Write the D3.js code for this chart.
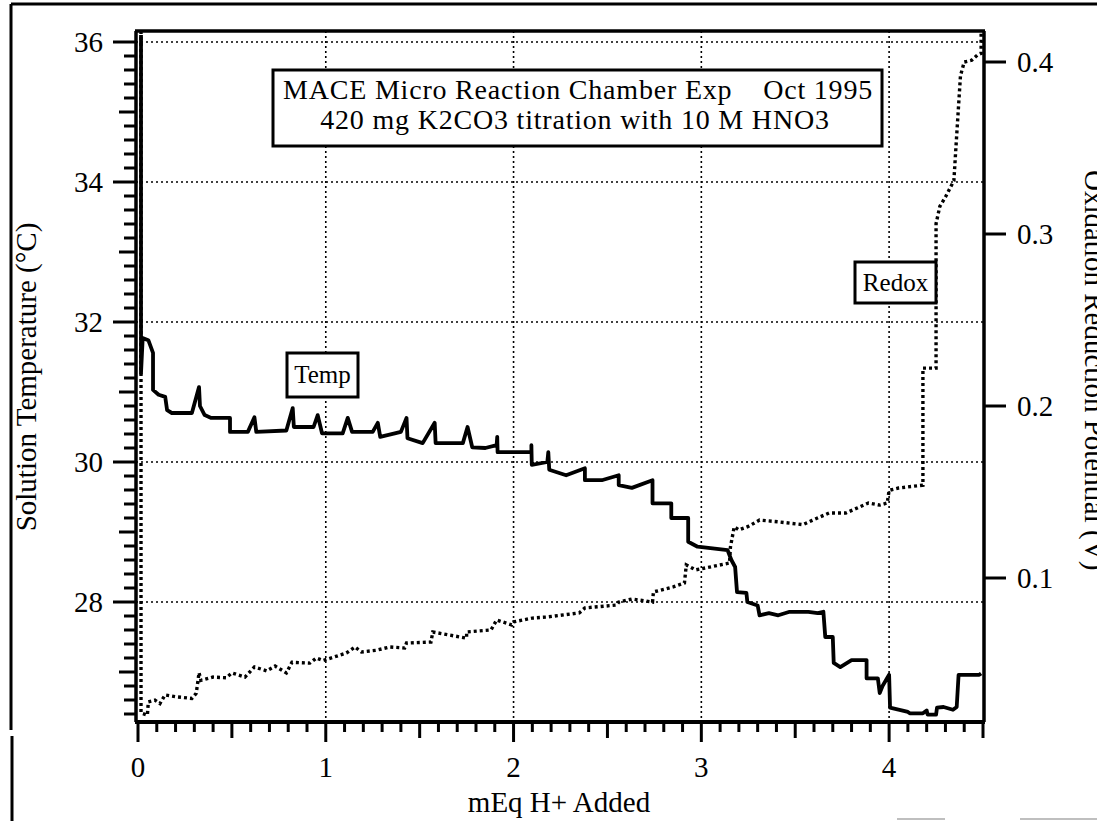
<!DOCTYPE html>
<html>
<head>
<meta charset="utf-8">
<script src="https://cdn.jsdelivr.net/npm/d3@7"></script>
<style>
  html, body { margin: 0; padding: 0; background: #fff; }
  svg { display: block; }
  text { font-family: "Liberation Serif", "Times New Roman", serif; fill: #000; }
</style>
</head>
<body>
<svg id="chart" width="1097" height="821"></svg>
<script>
// ---------------- data ----------------
const xTickLabels = [0, 1, 2, 3, 4];
const tempTickLabels = [28, 30, 32, 34, 36];
const redoxTickLabels = [0.1, 0.2, 0.3, 0.4];

const titleLine1 = "MACE Micro Reaction Chamber Exp";
const titleLine1b = "Oct 1995";
const titleLine2 = "420 mg K2CO3 titration with 10 M HNO3";
const xTitle = "mEq H+ Added";
const yLeftTitle = "Solution Temperature (°C)";
const yRightTitle = "Oxidation Reduction Potential (V)";
const seriesNames = ["Temp", "Redox"];

// Temperature (°C) vs mEq H+ added
const tempX = [0.016, 0.016, 0.025, 0.055, 0.08, 0.08, 0.11, 0.145, 0.155, 0.18, 0.287, 0.325, 0.33, 0.355, 0.39, 0.49, 0.49,
  0.585, 0.62, 0.63, 0.79, 0.824, 0.83, 0.935, 0.957, 0.98, 1.09, 1.117, 1.14, 1.25, 1.277, 1.29, 1.40, 1.43, 1.435,
  1.516, 1.58, 1.585, 1.73, 1.755, 1.78, 1.85, 1.91, 1.913, 1.915, 2.095, 2.095, 2.097, 2.18, 2.185, 2.19, 2.28, 2.38,
  2.38, 2.47, 2.56, 2.56, 2.63, 2.74, 2.74, 2.84, 2.84, 2.93, 2.93, 2.98, 3.14, 3.16, 3.18, 3.19, 3.24, 3.245, 3.30,
  3.31, 3.36, 3.41, 3.47, 3.57, 3.62, 3.65, 3.66, 3.70, 3.705, 3.74, 3.80, 3.88, 3.88, 3.94, 3.95, 3.965, 4.0, 4.005,
  4.10, 4.11, 4.18, 4.20, 4.205, 4.25, 4.255, 4.29, 4.34, 4.36, 4.37, 4.48, 4.49];
const tempVal = [36.1, 31.27, 31.77, 31.74, 31.56, 31.03, 30.96, 30.93, 30.74, 30.70, 30.70, 31.07, 30.80, 30.67, 30.63, 30.63, 30.43,
  30.43, 30.64, 30.43, 30.45, 30.77, 30.50, 30.50, 30.67, 30.41, 30.41, 30.63, 30.43, 30.43, 30.56, 30.36, 30.43, 30.63, 30.34,
  30.27, 30.56, 30.27, 30.27, 30.50, 30.21, 30.20, 30.24, 30.36, 30.14, 30.14, 30.24, 29.96, 30.00, 30.14, 29.89, 29.81, 29.91,
  29.74, 29.74, 29.81, 29.67, 29.63, 29.74, 29.41, 29.41, 29.20, 29.20, 28.86, 28.79, 28.74, 28.60, 28.50, 28.14, 28.13, 28.00, 27.95,
  27.81, 27.84, 27.81, 27.86, 27.86, 27.84, 27.86, 27.50, 27.50, 27.13, 27.07, 27.17, 27.17, 26.91, 26.91, 26.70, 26.80, 26.96, 26.49,
  26.43, 26.41, 26.41, 26.45, 26.39, 26.39, 26.49, 26.50, 26.46, 26.50, 26.96, 26.96, 26.98];

// Redox potential (V) vs mEq H+ added
const redoxX = [0.016, 0.016, 0.05, 0.055, 0.09, 0.117, 0.144, 0.2, 0.287, 0.31, 0.32, 0.325, 0.335, 0.4, 0.47, 0.5, 0.57, 0.62,
  0.685, 0.73, 0.79, 0.82, 0.915, 0.95, 0.985, 1.11, 1.155, 1.19, 1.27, 1.34, 1.42, 1.43, 1.56, 1.57, 1.75, 1.75, 1.88,
  1.91, 1.99, 2.0, 2.1, 2.175, 2.35, 2.38, 2.55, 2.56, 2.63, 2.74, 2.745, 2.85, 2.91, 2.92, 2.97, 3.15, 3.155, 3.175, 3.2,
  3.25, 3.31, 3.415, 3.54, 3.59, 3.68, 3.77, 3.89, 3.95, 3.99, 4.0, 4.05, 4.18, 4.18, 4.25, 4.25, 4.27, 4.30, 4.345,
  4.355, 4.38, 4.40, 4.44, 4.47, 4.49, 4.49];
const redoxVal = [0.418, 0.0215, 0.0203, 0.028, 0.029, 0.027, 0.032, 0.031, 0.030, 0.033, 0.0407, 0.045, 0.0405, 0.0424, 0.042, 0.0448, 0.0424, 0.0483,
  0.046, 0.0488, 0.0448, 0.051, 0.0505, 0.0535, 0.052, 0.0564, 0.0599, 0.057, 0.058, 0.0599, 0.0593, 0.0622, 0.0628, 0.0686, 0.065, 0.0686, 0.0698,
  0.0756, 0.0727, 0.0745, 0.0767, 0.0773, 0.0797, 0.0826, 0.0843, 0.086, 0.0878, 0.086, 0.0919, 0.0948, 0.0971, 0.1076, 0.1047, 0.1087, 0.118, 0.1297, 0.128,
  0.130, 0.1337, 0.1326, 0.131, 0.1335, 0.1378, 0.1378, 0.1436, 0.1424, 0.1436, 0.151, 0.1523, 0.154, 0.222, 0.222, 0.306, 0.316, 0.3215, 0.331,
  0.349, 0.392, 0.400, 0.401, 0.404, 0.405, 0.417];

// ---------------- layout ----------------
const svg = d3.select("#chart");
const L = 136, R = 984, T = 31, B = 722;

const x = d3.scaleLinear().domain([0, 4.5]).range([138, 983]);
const yT = d3.scaleLinear().domain([36 - (B - 42) / 70, 36 + (42 - T) / 70]).range([B, T]);
const yR = d3.scaleLinear().domain([0.4 - (B - 62) / 1720, 0.4 + (62 - T) / 1720]).range([B, T]);

// outer scan border
svg.append("line").attr("x1", 11).attr("y1", 4).attr("x2", 1097).attr("y2", 4).attr("stroke", "#000").attr("stroke-width", 3);
svg.append("line").attr("x1", 11).attr("y1", 4).attr("x2", 11).attr("y2", 730).attr("stroke", "#000").attr("stroke-width", 3);
svg.append("line").attr("x1", 12).attr("y1", 736).attr("x2", 12).attr("y2", 821).attr("stroke", "#000").attr("stroke-width", 3);
svg.append("line").attr("x1", 897).attr("y1", 819).attr("x2", 945).attr("y2", 819).attr("stroke", "#aaa").attr("stroke-width", 1.5);
svg.append("line").attr("x1", 1020).attr("y1", 819).attr("x2", 1097).attr("y2", 819).attr("stroke", "#aaa").attr("stroke-width", 1.5);

// grid
const grid = svg.append("g").attr("stroke", "#000").attr("stroke-width", 1.6).attr("stroke-dasharray", "2,3");
grid.selectAll(".gx").data(xTickLabels.filter(d => d > 0)).join("line")
  .attr("x1", d => x(d)).attr("x2", d => x(d)).attr("y1", T).attr("y2", B);
grid.selectAll(".gy").data(tempTickLabels).join("line")
  .attr("x1", L).attr("x2", R).attr("y1", d => yT(d)).attr("y2", d => yT(d));

// bottom axis ticks
const xMinor = d3.range(0, 46).map(i => i / 10);
svg.append("g").selectAll("line").data(xMinor).join("line")
  .attr("x1", d => x(d)).attr("x2", d => x(d))
  .attr("y1", B)
  .attr("y2", (d, i) => B + (i % 10 === 0 ? 20 : (i % 5 === 0 ? 16 : 10)))
  .attr("stroke", "#000").attr("stroke-width", 3);
svg.append("g").selectAll("text").data(xTickLabels).join("text")
  .attr("x", d => x(d)).attr("y", 777).attr("text-anchor", "middle")
  .attr("font-size", 29).text(d => d);

// left axis ticks
const yMinor = d3.range(132, 181).map(i => i / 5); // 26.4 .. 36
svg.append("g").selectAll("line").data(yMinor).join("line")
  .attr("y1", d => yT(d)).attr("y2", d => yT(d))
  .attr("x1", L)
  .attr("x2", d => {
    const r = Math.round(d * 5);
    if (r % 10 === 0) return L - 23;
    if (r % 5 === 0) return L - 17;
    return L - 12;
  })
  .attr("stroke", "#000").attr("stroke-width", 3);
svg.append("g").selectAll("text").data(tempTickLabels).join("text")
  .attr("x", 103).attr("y", d => yT(d) + 10).attr("text-anchor", "end")
  .attr("font-size", 29).text(d => d);

// right axis ticks
svg.append("g").selectAll("line").data(redoxTickLabels).join("line")
  .attr("y1", d => yR(d)).attr("y2", d => yR(d))
  .attr("x1", R).attr("x2", R + 22)
  .attr("stroke", "#000").attr("stroke-width", 3);
svg.append("g").selectAll("text").data(redoxTickLabels).join("text")
  .attr("x", 1017).attr("y", d => yR(d) + 10).attr("text-anchor", "start")
  .attr("font-size", 29).text(d => d.toFixed(1));

// axis titles
svg.append("text").attr("transform", "translate(36,377) rotate(-90)")
  .attr("text-anchor", "middle").attr("font-size", 29).text(yLeftTitle);
svg.append("text").attr("transform", "translate(1085,170) rotate(90)")
  .attr("text-anchor", "start").attr("font-size", 29).text(yRightTitle);
svg.append("text").attr("x", 559).attr("y", 812).attr("text-anchor", "middle")
  .attr("font-size", 29).text(xTitle);

// clip for data
svg.append("clipPath").attr("id", "plotclip").append("rect")
  .attr("x", L).attr("y", T - 2).attr("width", R - L).attr("height", B - T + 2);

// redox line (dotted)
const redoxPts = redoxX.map((d, i) => [d, redoxVal[i]]);
svg.append("path").datum(redoxPts)
  .attr("clip-path", "url(#plotclip)")
  .attr("fill", "none").attr("stroke", "#000").attr("stroke-width", 3.4)
  .attr("stroke-dasharray", "3,3")
  .attr("d", d3.line().x(d => x(d[0])).y(d => yR(d[1])));

// temperature line (solid)
const tempPts = tempX.map((d, i) => [d, tempVal[i]]);
svg.append("path").datum(tempPts)
  .attr("clip-path", "url(#plotclip)")
  .attr("fill", "none").attr("stroke", "#000").attr("stroke-width", 3.8)
  .attr("stroke-linejoin", "round")
  .attr("d", d3.line().x(d => x(d[0])).y(d => yT(d[1])));

// frame
svg.append("line").attr("x1", L - 1).attr("x2", R + 1).attr("y1", T).attr("y2", T).attr("stroke", "#000").attr("stroke-width", 3.5);
svg.append("line").attr("x1", L - 1).attr("x2", R + 1).attr("y1", B).attr("y2", B).attr("stroke", "#000").attr("stroke-width", 4);
svg.append("line").attr("x1", L).attr("x2", L).attr("y1", T).attr("y2", B).attr("stroke", "#000").attr("stroke-width", 3.5);
svg.append("line").attr("x1", R).attr("x2", R).attr("y1", T).attr("y2", B).attr("stroke", "#000").attr("stroke-width", 3.5);

// title box
const tb = svg.append("g");
tb.append("rect").attr("x", 273).attr("y", 70).attr("width", 609).attr("height", 76)
  .attr("fill", "#fff").attr("stroke", "#000").attr("stroke-width", 3);
tb.append("text").attr("x", 283).attr("y", 99).attr("font-size", 28).attr("letter-spacing", 0.8).text(titleLine1);
tb.append("text").attr("x", 873).attr("y", 99).attr("text-anchor", "end").attr("font-size", 28).attr("letter-spacing", 0.8).text(titleLine1b);
tb.append("text").attr("x", 575).attr("y", 129).attr("text-anchor", "middle").attr("font-size", 28).attr("letter-spacing", 0.8).text(titleLine2);

// series label boxes
const tl = svg.append("g");
tl.append("rect").attr("x", 287).attr("y", 353).attr("width", 71).attr("height", 44)
  .attr("fill", "#fff").attr("stroke", "#000").attr("stroke-width", 3);
tl.append("text").attr("x", 322.5).attr("y", 383).attr("text-anchor", "middle").attr("font-size", 25).text(seriesNames[0]);

const rl = svg.append("g");
rl.append("rect").attr("x", 855).attr("y", 262).attr("width", 81).attr("height", 41)
  .attr("fill", "#fff").attr("stroke", "#000").attr("stroke-width", 3);
rl.append("text").attr("x", 895.5).attr("y", 291).attr("text-anchor", "middle").attr("font-size", 25).text(seriesNames[1]);
</script>
</body>
</html>
